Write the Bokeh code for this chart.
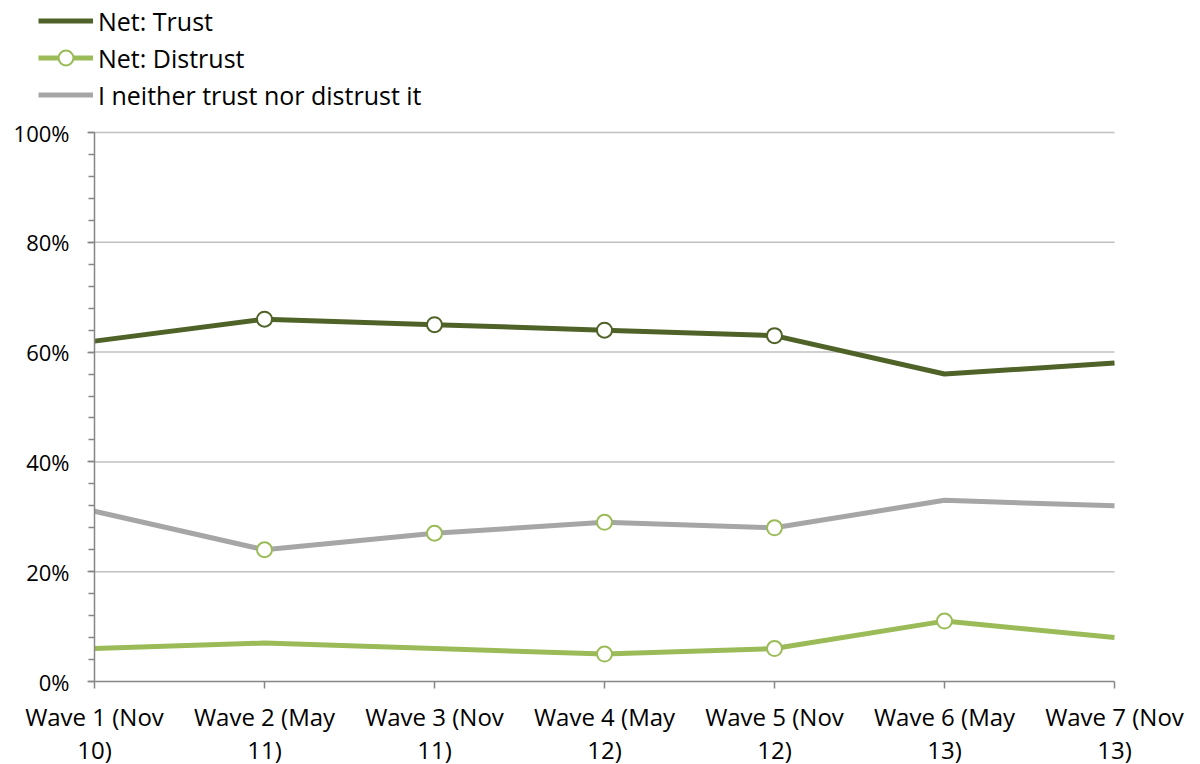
from bokeh.plotting import figure
from bokeh.models import (Range1d, FixedTicker, Legend, LegendItem, PrintfTickFormatter,
                          ColumnDataSource)
from bokeh.embed import file_html
from bokeh.resources import INLINE

# --- data -------------------------------------------------------------
waves = ["Wave 1 (Nov\n10)", "Wave 2 (May\n11)", "Wave 3 (Nov\n11)", "Wave 4 (May\n12)",
         "Wave 5 (Nov\n12)", "Wave 6 (May\n13)", "Wave 7 (Nov\n13)"]
net_trust = [62, 66, 65, 64, 63, 56, 58]
net_distrust = [6, 7, 6, 5, 6, 11, 8]
neither = [31, 24, 27, 29, 28, 33, 32]
# waves flagged with a hollow marker on each series
trust_flag = [False, True, True, True, True, False, False]
distrust_flag = [False, False, False, True, True, True, False]
neither_flag = [False, True, True, True, True, False, False]
series_names = ["Net: Trust", "Net: Distrust", "I neither trust nor distrust it"]
y_ticks = [0, 20, 40, 60, 80, 100]

FONT = "Open Sans"
DARK = "#4F6228"
LIGHT = "#9BBB59"
GREY = "#A6A6A6"
AXIS = "#868686"

x = list(range(len(waves)))

# page geometry (px): the frame covers the whole page, both axes are pinned to the
# data origin, so the legend and all tick labels sit inside the frame
W, H = 1200, 764
PLOT_LEFT, PLOT_RIGHT, PLOT_TOP, PLOT_BOTTOM = 94, 1114, 132, 681
n = len(waves) - 1
px_per_x = (PLOT_RIGHT - PLOT_LEFT) / n
px_per_y = (PLOT_BOTTOM - PLOT_TOP) / 100

p = figure(width=W, height=H, output_backend="svg", toolbar_location=None,
           x_range=Range1d(-PLOT_LEFT / px_per_x, n + (W - PLOT_RIGHT) / px_per_x),
           y_range=Range1d(-(H - PLOT_BOTTOM) / px_per_y, PLOT_BOTTOM / px_per_y),
           min_border=0)
p.outline_line_color = None
p.background_fill_color = "white"
p.border_fill_color = "white"

# horizontal gridlines, limited to the span of the waves
p.xgrid.visible = False
p.ygrid.visible = False
grid_y = y_ticks[1:]
p.segment(x0=[0] * len(grid_y), x1=[n] * len(grid_y), y0=grid_y, y1=grid_y,
          line_color="#C0C0C0", line_width=1.5, level="underlay")

ya = p.yaxis[0]
ya.fixed_location = 0
ya.bounds = (0, 100)
ya.ticker = FixedTicker(ticks=y_ticks, minor_ticks=[v for v in range(0, 101, 4)])
ya.formatter = PrintfTickFormatter(format="%d%%")
ya.axis_line_color = AXIS
ya.axis_line_width = 1.5
ya.major_tick_line_color = AXIS
ya.minor_tick_line_color = AXIS
ya.major_tick_line_width = 1.5
ya.minor_tick_line_width = 1.5
ya.major_tick_out = 7
ya.major_tick_in = 0
ya.minor_tick_out = 6
ya.minor_tick_in = 0
ya.major_label_text_font = FONT
ya.major_label_text_font_size = "22px"
ya.major_label_text_color = "black"
ya.major_label_standoff = 18

xa = p.xaxis[0]
xa.fixed_location = 0
xa.bounds = (0, n)
xa.ticker = FixedTicker(ticks=x, minor_ticks=[])
xa.major_label_overrides = {i: w for i, w in zip(x, waves)}
xa.axis_line_color = AXIS
xa.axis_line_width = 1.5
xa.major_tick_line_color = AXIS
xa.major_tick_line_width = 1.5
xa.major_tick_out = 7
xa.major_tick_in = 0
xa.minor_tick_line_color = None
xa.major_label_text_font = FONT
xa.major_label_text_font_size = "24px"
xa.major_label_text_color = "black"
xa.major_label_standoff = 11
xa.major_label_text_line_height = 1.0


def marked(vals, flags):
    return ColumnDataSource(dict(x=[i for i, f in zip(x, flags) if f],
                                 y=[v for v, f in zip(vals, flags) if f]))


line_styles = [dict(line_color=DARK, line_width=5),
               dict(line_color=LIGHT, line_width=5),
               dict(line_color=GREY, line_width=5)]
marker_style = dict(marker="circle", size=15, fill_color="white", line_width=2)

r_trust, r_dist, r_neith = [p.line(x, vals, **style)
                            for vals, style in zip([net_trust, net_distrust, neither],
                                                   line_styles)]

p.scatter("x", "y", source=marked(net_trust, trust_flag), line_color=DARK, **marker_style)
r_dist_m = p.scatter("x", "y", source=marked(net_distrust, distrust_flag), line_color=LIGHT,
                     **marker_style)
p.scatter("x", "y", source=marked(neither, neither_flag), line_color=LIGHT, **marker_style)

# legend in the top-left corner, one 37px row per series
ROW = 37
legend = Legend(items=[
    LegendItem(label=series_names[0], renderers=[r_trust]),
    LegendItem(label=series_names[1], renderers=[r_dist, r_dist_m]),
    LegendItem(label=series_names[2], renderers=[r_neith]),
], location=(38, H - 2 - 3 * ROW))
legend.border_line_color = None
legend.background_fill_alpha = 0
legend.padding = 0
legend.margin = 0
legend.spacing = 0
legend.glyph_width = 55
legend.glyph_height = ROW
legend.label_height = ROW
legend.label_standoff = 5
legend.label_text_font = FONT
legend.label_text_font_size = "25px"
legend.label_text_color = "black"
p.add_layout(legend, "center")

open("out.html", "w").write(file_html(p, INLINE))
